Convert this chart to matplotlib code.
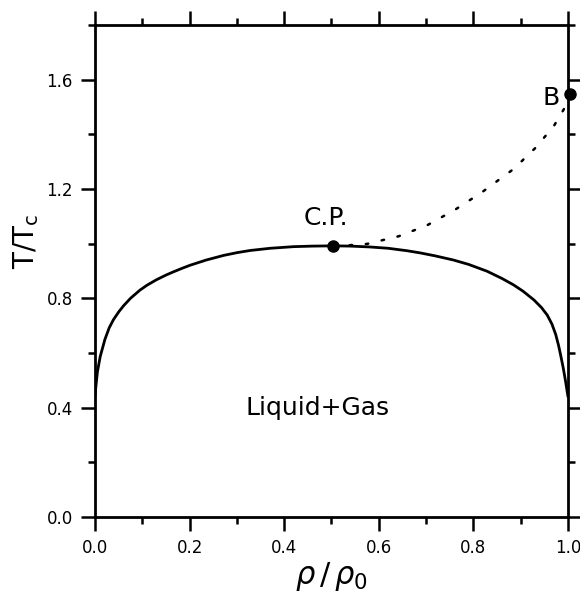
import matplotlib
matplotlib.use("Agg")
import matplotlib.pyplot as plt
from matplotlib.ticker import MultipleLocator

# Coexistence curve (rho/rho0, T/Tc)
coex_x = [0.0, 0.002, 0.005, 0.011, 0.021, 0.030, 0.039, 0.050, 0.060, 0.075,
          0.095, 0.110, 0.130, 0.150, 0.166, 0.183, 0.201, 0.235, 0.272, 0.300,
          0.328, 0.370, 0.420, 0.460, 0.504, 0.540, 0.580, 0.620, 0.660, 0.688,
          0.720, 0.758, 0.790, 0.829, 0.860, 0.885, 0.905, 0.928, 0.944, 0.956,
          0.966, 0.974, 0.980, 0.984, 0.990, 0.995, 1.0]
coex_y = [0.44, 0.48, 0.53, 0.587, 0.650, 0.692, 0.722, 0.750, 0.772, 0.800,
          0.830, 0.848, 0.868, 0.885, 0.897, 0.909, 0.921, 0.940, 0.957, 0.967,
          0.975, 0.983, 0.989, 0.991, 0.992, 0.991, 0.988, 0.983, 0.974, 0.966,
          0.955, 0.940, 0.924, 0.899, 0.873, 0.849, 0.826, 0.794, 0.766, 0.739,
          0.706, 0.668, 0.628, 0.596, 0.545, 0.495, 0.44]

# Dotted line from critical point to B
dot_x = [0.504, 0.575, 0.642, 0.702, 0.762, 0.818, 0.885, 0.931, 0.970, 0.991, 1.005]
dot_y = [0.990, 0.999, 1.027, 1.067, 1.125, 1.188, 1.273, 1.350, 1.430, 1.491, 1.546]

cp = (0.504, 0.990)
bpt = (1.005, 1.546)

fig = plt.figure(figsize=(5.8, 5.94), dpi=100)
ax = fig.add_axes([0.1638, 0.1296, 0.8155, 0.8284])

ax.plot(coex_x, coex_y, color="black", lw=2.0, solid_capstyle="round", solid_joinstyle="round")
ax.plot(dot_x, dot_y, color="black", lw=1.8, linestyle=(0, (1, 5.5)), dash_capstyle="round")
ax.plot([cp[0]], [cp[1]], "o", color="black", ms=8, clip_on=False)
ax.plot([bpt[0]], [bpt[1]], "o", color="black", ms=8, clip_on=False, zorder=5)

ax.text(0.489, 1.095, "C.P.", fontsize=18, ha="center", va="center")
ax.text(0.965, 1.531, "B", fontsize=18, ha="center", va="center")
ax.text(0.47, 0.40, "Liquid+Gas", fontsize=18, ha="center", va="center")

ax.set_xlim(0, 1.0)
ax.set_ylim(0, 1.8)
ax.xaxis.set_minor_locator(MultipleLocator(0.1))
ax.yaxis.set_minor_locator(MultipleLocator(0.2))
ax.set_xticks([0.0, 0.2, 0.4, 0.6, 0.8, 1.0])
ax.set_xticklabels(["0.0", "0.2", "0.4", "0.6", "0.8", "1.0"])
ax.set_yticks([0.0, 0.4, 0.8, 1.2, 1.6])
ax.set_yticklabels(["0.0", "0.4", "0.8", "1.2", "1.6"])

ax.tick_params(which="both", direction="out", top=True, right=True, width=1.8, labelsize=12)
ax.tick_params(which="major", length=10, pad=6)
ax.tick_params(which="minor", length=5)
for s in ax.spines.values():
    s.set_linewidth(2.0)

ax.set_xlabel(r"$\rho\,/\,\rho_0$", fontsize=22, labelpad=2)
ax.set_ylabel(r"T/T$_\mathregular{c}$", fontsize=20)
ax.yaxis.set_label_coords(-0.115, 0.56)

fig.savefig("out.png", dpi=100)
